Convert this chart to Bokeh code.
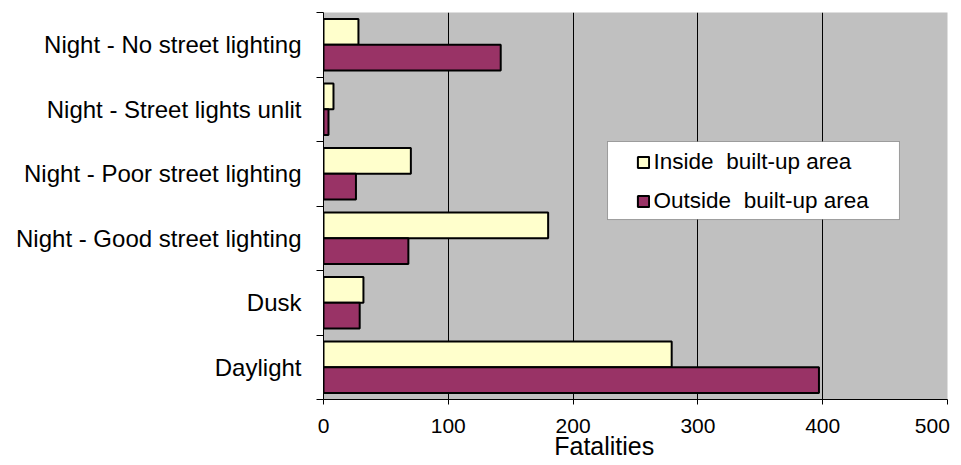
import numpy as np
from bokeh.plotting import figure
from bokeh.models import Range1d, FixedTicker, Legend, BoxAnnotation
from bokeh.embed import file_html
from bokeh.resources import INLINE

# ---- data ----
categories = ["Daylight", "Dusk", "Night - Good street lighting",
              "Night - Poor street lighting", "Night - Street lights unlit",
              "Night - No street lighting"]
inside = [279, 32, 180, 70, 8, 28]
outside = [397, 29, 68, 26, 4, 142]
x_ticks = [0, 100, 200, 300, 400, 500]
series_names = ["Inside  built-up area", "Outside  built-up area"]
x_title = "Fatalities"

FONT = "Liberation Sans"
idx = np.arange(len(categories))
centers = (idx + 0.5).tolist()
bounds = np.arange(len(categories) + 1).tolist()

p = figure(width=961, height=465, output_backend="svg", toolbar_location=None,
           x_range=Range1d(0, 500), y_range=Range1d(0, len(categories)),
           min_border_left=323, min_border_right=14, min_border_top=12,
           min_border_bottom=66)
p.background_fill_color = "#C0C0C0"
p.border_fill_color = "white"
p.outline_line_color = None

# x axis
xa = p.xaxis[0]
xa.ticker = FixedTicker(ticks=x_ticks)
xa.major_tick_in = 0
xa.major_tick_out = 5
xa.minor_tick_out = 0
xa.axis_line_color = "black"
xa.major_tick_line_color = "black"
xa.major_label_text_font = FONT
xa.major_label_text_font_size = "21px"
xa.major_label_text_color = "black"
xa.major_label_standoff = 9
xa.major_label_overrides = {x_ticks[-1]: str(x_ticks[-1]) + "\u00a0\u00a0"}
# title shifted left of the frame centre, as in the reference
xa.axis_label = x_title + "\u00a0" * 9
xa.axis_label_text_font = FONT
xa.axis_label_text_font_size = "25px"
xa.axis_label_text_font_style = "normal"
xa.axis_label_text_color = "black"
xa.axis_label_standoff = -8

# y axis
ya = p.yaxis[0]
ya.ticker = FixedTicker(ticks=centers, minor_ticks=bounds)
ya.major_tick_in = 0
ya.major_tick_out = 0
ya.major_tick_line_color = None
ya.minor_tick_in = 0
ya.minor_tick_out = 7
ya.minor_tick_line_color = "black"
ya.axis_line_color = "black"
ya.major_label_overrides = {c: name for c, name in zip(centers, categories)}
ya.major_label_text_font = FONT
ya.major_label_text_font_size = "24px"
ya.major_label_text_color = "black"
ya.major_label_standoff = 15

p.xgrid.grid_line_color = "black"
p.xgrid.grid_line_width = 1
p.ygrid.grid_line_color = None

r_in = p.hbar(y=idx + 0.7, left=0, right=inside, height=0.4,
              fill_color="#FFFFCC", line_color="black", line_width=2)
r_out = p.hbar(y=idx + 0.3, left=0, right=outside, height=0.4,
               fill_color="#993366", line_color="black", line_width=2)

# legend frame
box = BoxAnnotation(left=227.6, right=461.5, top=4.0, bottom=2.79,
                    fill_color="white", fill_alpha=1.0,
                    line_color="black", line_width=1, level="annotation")
p.add_layout(box)

legend = Legend(items=[(series_names[0], [r_in]), (series_names[1], [r_out])],
                location=(312.6, 184.6), padding=0, margin=0,
                border_line_color=None, background_fill_alpha=0,
                glyph_width=14, glyph_height=14, label_standoff=4,
                label_height=26, spacing=13,
                label_text_font=FONT, label_text_font_size="22.5px",
                label_text_color="black")
p.add_layout(legend)

open("out.html", "w").write(file_html(p, INLINE))
